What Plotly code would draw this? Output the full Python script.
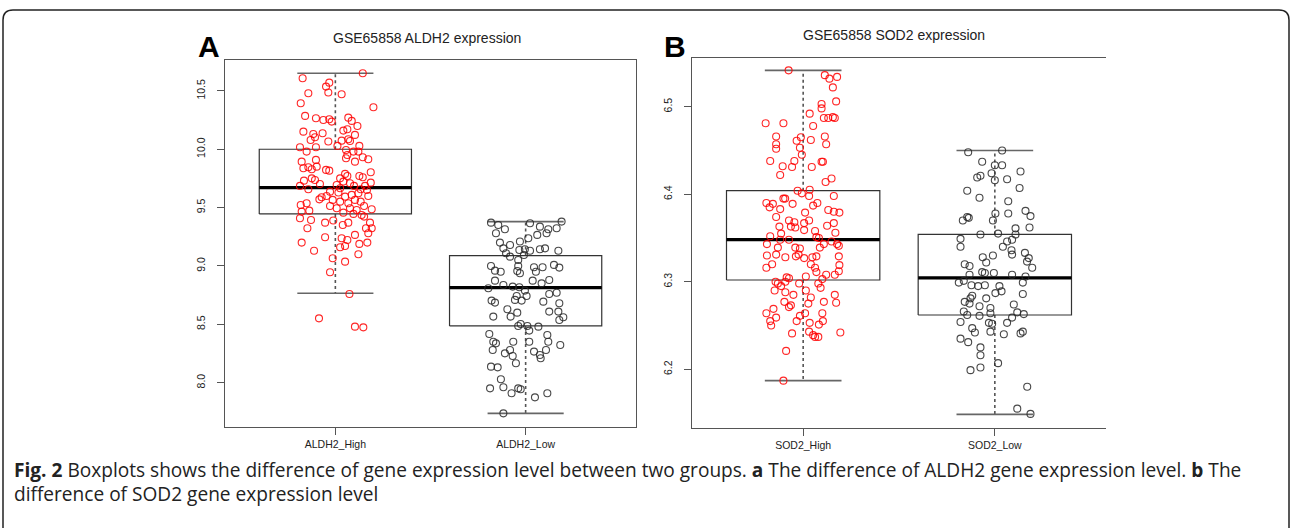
import plotly.graph_objects as go

W, H = 1290, 528

# ---------------- data ----------------
groups_a = ["ALDH2_High", "ALDH2_Low"]
groups_b = ["SOD2_High", "SOD2_Low"]

# box statistics: lower whisker, Q1, median, Q3, upper whisker
stats_a = {
    "ALDH2_High": [8.766, 9.446, 9.671, 10.000, 10.651],
    "ALDH2_Low":  [7.737, 8.486, 8.814, 9.089, 9.380],
}
stats_b = {
    "SOD2_High": [6.187, 6.302, 6.348, 6.404, 6.5415],
    "SOD2_Low":  [6.1485, 6.262, 6.3044, 6.354, 6.450],
}

aldh2_high_y = [10.651, 10.609, 10.571, 10.537, 10.486, 10.48, 10.471, 10.394, 10.36, 10.286,
                10.266, 10.251, 10.257, 10.237, 10.271, 10.243, 10.2, 10.151, 10.131, 10.137,
                10.16, 10.171, 10.123, 10.08, 10.103, 10.066, 10.074, 10.086, 10.071, 10.017,
                9.98, 10.017, 10.029, 9.994, 9.98, 10.029, 9.923, 9.951, 9.894, 9.931,
                9.914, 9.98, 9.894, 9.909, 9.837, 9.846, 9.829, 9.851, 9.823, 9.817,
                9.803, 9.789, 9.751, 9.771, 9.771, 9.76, 9.731, 9.751, 9.737, 9.703,
                9.686, 9.657, 9.694, 9.666, 9.723, 9.709, 9.686, 9.657, 9.686, 9.714,
                9.651, 9.637, 9.629, 9.6, 9.571, 9.589, 9.594, 9.609, 9.623, 9.6,
                9.566, 9.551, 9.537, 9.566, 9.551, 9.514, 9.523, 9.537, 9.514, 9.494,
                9.494, 9.48, 9.486, 9.466, 9.474, 9.457, 9.446, 9.437, 9.409, 9.394,
                9.371, 9.389, 9.351, 9.371, 9.423, 9.371, 9.323, 9.323, 9.28, 9.323,
                9.237, 9.223, 9.266, 9.246, 9.2, 9.189, 9.2, 9.16, 9.171, 9.131,
                9.1, 9.066, 9.037, 8.946, 8.76, 8.551, 8.48, 8.474]
aldh2_high_dx = [0.144, -0.172, -0.032, -0.049, -0.037, -0.142, 0.033, -0.182, 0.2, -0.159,
                 -0.102, -0.063, -0.032, -0.019, 0.068, 0.086, 0.116, -0.168, -0.116, -0.067,
                 0.042, 0.063, 0.103, -0.13, -0.107, -0.037, 0.033, 0.068, 0.077, -0.186,
                 -0.151, -0.102, 0.011, 0.056, 0.095, 0.126, 0.056, 0.063, 0.103, 0.144,
                 0.173, 0.121, -0.177, -0.102, -0.168, -0.142, -0.124, -0.098, -0.049, -0.032,
                 0.186, 0.051, 0.025, 0.063, 0.126, 0.144, -0.165, -0.124, -0.107, -0.081,
                 -0.186, -0.142, 0.007, 0.025, 0.042, 0.077, 0.098, 0.133, 0.156, 0.186,
                 0.166, -0.028, 0.016, -0.046, -0.084, -0.072, 0.051, 0.086, 0.121, 0.173,
                 -0.014, 0.025, 0.068, 0.103, 0.133, 0.151, -0.182, -0.151, -0.028, 0.007,
                 0.077, 0.112, 0.191, -0.177, -0.137, 0.042, 0.095, 0.138, -0.186, -0.128,
                 -0.054, -0.011, 0.039, 0.068, 0.151, 0.182, 0.161, 0.191, 0.173, -0.147,
                 0.033, 0.063, 0.103, -0.054, -0.177, 0.126, 0.168, 0.025, 0.051, -0.112,
                 0.121, -0.014, 0.051, -0.028, 0.074, -0.086, 0.103, 0.147]

aldh2_low_y = [9.371, 9.38, 9.351, 9.366, 9.337, 9.314, 9.323, 9.28, 9.314, 9.266,
               9.28, 9.237, 9.209, 9.2, 9.18, 9.151, 9.109, 9.08, 9.137, 9.143,
               9.131, 9.094, 9.143, 9.151, 9.131, 9.051, 9.0, 8.96, 8.951, 9.0,
               8.957, 8.989, 8.951, 8.989, 9.009, 8.986, 8.937, 8.874, 8.837, 8.823,
               8.817, 8.874, 8.851, 8.88, 8.809, 8.743, 8.789, 8.743, 8.76, 8.771,
               8.703, 8.686, 8.709, 8.703, 8.694, 8.68, 8.566, 8.629, 8.566, 8.6,
               8.609, 8.609, 8.537, 8.56, 8.503, 8.486, 8.486, 8.48, 8.446, 8.417,
               8.351, 8.337, 8.351, 8.351, 8.409, 8.351, 8.323, 8.28, 8.251, 8.28,
               8.229, 8.166, 8.266, 8.237, 8.28, 8.209, 8.137, 8.131, 8.029, 7.951,
               7.96, 7.909, 7.951, 7.943, 7.874, 7.909, 7.737]
aldh2_low_dx = [-0.182, 0.189, -0.144, 0.023, 0.075, 0.119, 0.163, -0.156, -0.109, 0.061,
                0.11, 0.014, -0.03, -0.135, -0.082, -0.117, -0.103, -0.082, -0.033, -0.004,
                0.023, -0.009, 0.075, 0.102, 0.172, -0.039, -0.182, -0.161, -0.131, -0.039,
                -0.044, 0.044, 0.054, 0.089, 0.149, 0.177, -0.03, -0.161, -0.117, -0.068,
                -0.033, 0.037, 0.084, 0.124, -0.196, -0.047, -0.004, 0.005, 0.124, 0.163,
                -0.179, -0.161, -0.056, -0.021, 0.093, 0.177, -0.17, -0.096, -0.079, -0.044,
                0.124, 0.172, 0.177, 0.198, -0.026, -0.039, 0.009, 0.067, 0.019, -0.191,
                -0.17, -0.156, -0.065, 0.019, 0.114, 0.119, 0.182, -0.173, -0.109, -0.082,
                -0.068, -0.051, 0.044, 0.075, 0.107, 0.079, -0.182, -0.147, -0.13, -0.187,
                -0.117, -0.074, -0.039, -0.026, 0.049, 0.114, -0.117]

sod2_high_y = [6.5415, 6.536, 6.532, 6.534, 6.522, 6.506, 6.503, 6.498, 6.492, 6.487,
               6.487, 6.488, 6.487, 6.481, 6.481, 6.478, 6.466, 6.465, 6.461, 6.462,
               6.466, 6.457, 6.457, 6.452, 6.453, 6.445, 6.438, 6.438, 6.437, 6.437,
               6.432, 6.431, 6.431, 6.422, 6.414, 6.418, 6.404, 6.405, 6.401, 6.398,
               6.395, 6.395, 6.398, 6.39, 6.385, 6.389, 6.389, 6.383, 6.387, 6.39,
               6.379, 6.382, 6.38, 6.379, 6.374, 6.37, 6.368, 6.363, 6.362, 6.367,
               6.37, 6.363, 6.364, 6.367, 6.359, 6.358, 6.356, 6.352, 6.355, 6.351,
               6.35, 6.348, 6.348, 6.346, 6.343, 6.343, 6.343, 6.339, 6.339, 6.338,
               6.339, 6.341, 6.33, 6.331, 6.328, 6.329, 6.331, 6.327, 6.328, 6.329,
               6.329, 6.316, 6.32, 6.32, 6.316, 6.319, 6.311, 6.308, 6.308, 6.312,
               6.305, 6.306, 6.3, 6.298, 6.3, 6.304, 6.298, 6.298, 6.303, 6.29,
               6.295, 6.288, 6.29, 6.293, 6.285, 6.282, 6.285, 6.277, 6.273, 6.271,
               6.275, 6.277, 6.276, 6.264, 6.269, 6.264, 6.264, 6.261, 6.255, 6.255,
               6.259, 6.25, 6.253, 6.251, 6.255, 6.242, 6.243, 6.241, 6.239, 6.237,
               6.237, 6.221, 6.187]
sod2_high_dx = [-0.076, 0.113, 0.137, 0.177, 0.155, 0.172, 0.096, 0.096, 0.034, 0.108,
                0.131, 0.155, 0.165, -0.196, -0.103, 0.052, -0.141, -0.012, -0.034, 0.04,
                0.113, 0.12, -0.141, -0.141, -0.017, -0.007, -0.172, -0.046, 0.096, 0.103,
                -0.107, -0.058, 0.045, -0.12, 0.117, 0.148, -0.029, 0.034, -0.007, 0.16,
                -0.103, -0.094, 0.031, -0.192, -0.175, -0.158, -0.055, -0.12, 0.052, 0.074,
                0.01, 0.131, 0.16, 0.189, -0.141, -0.074, -0.046, -0.064, -0.041, 0.005,
                0.031, -0.124, 0.125, 0.16, 0.005, 0.062, 0.168, -0.172, -0.115, 0.069,
                0.082, -0.074, -0.12, 0.148, -0.189, 0.108, 0.177, -0.132, -0.041, -0.017,
                0.087, 0.186, -0.189, -0.141, -0.093, -0.038, -0.024, 0.005, 0.048, 0.069,
                0.186, -0.192, -0.162, 0.04, 0.062, 0.189, 0.069, 0.12, 0.165, 0.186,
                -0.086, 0.014, -0.144, -0.132, -0.093, -0.074, -0.021, 0.079, 0.1, -0.149,
                -0.115, -0.093, 0.014, 0.091, -0.051, 0.04, 0.165, -0.098, -0.064, -0.074,
                0.027, 0.108, 0.172, -0.192, -0.155, 0.01, 0.1, -0.017, -0.034, -0.172,
                -0.141, -0.167, 0.034, 0.082, 0.103, 0.194, 0.031, -0.058, 0.052, 0.062,
                0.079, -0.089, -0.103]

sod2_low_y = [6.448, 6.45, 6.437, 6.433, 6.433, 6.424, 6.426, 6.419, 6.421, 6.416,
              6.417, 6.407, 6.404, 6.396, 6.392, 6.378, 6.378, 6.381, 6.375, 6.37,
              6.374, 6.373, 6.37, 6.361, 6.362, 6.354, 6.355, 6.354, 6.349, 6.346,
              6.348, 6.34, 6.34, 6.336, 6.331, 6.333, 6.328, 6.33, 6.327, 6.323,
              6.32, 6.318, 6.316, 6.322, 6.311, 6.308, 6.31, 6.31, 6.308, 6.306,
              6.299, 6.301, 6.296, 6.295, 6.296, 6.295, 6.299, 6.287, 6.289, 6.284,
              6.281, 6.281, 6.286, 6.277, 6.275, 6.272, 6.274, 6.27, 6.266, 6.262,
              6.261, 6.264, 6.265, 6.263, 6.254, 6.253, 6.252, 6.253, 6.259, 6.243,
              6.24, 6.247, 6.242, 6.241, 6.243, 6.235, 6.231, 6.225, 6.216, 6.207,
              6.202, 6.199, 6.18, 6.155, 6.149]
sod2_low_dx = [-0.139, 0.038, -0.066, 0.0, 0.038, -0.017, 0.134, -0.092, -0.075, 0.0,
               0.064, 0.129, -0.144, -0.08, 0.07, 0.003, 0.07, 0.16, 0.186, -0.167,
               -0.144, -0.136, -0.01, 0.108, 0.181, -0.075, 0.017, 0.108, -0.179, 0.064,
               0.09, -0.179, 0.042, 0.087, 0.09, 0.157, -0.063, -0.01, 0.177, 0.168,
               -0.157, -0.132, 0.195, -0.045, -0.066, -0.132, -0.052, -0.005, 0.09, 0.16,
               -0.188, -0.162, -0.122, -0.087, -0.052, 0.024, 0.146, 0.003, 0.035, -0.118,
               -0.127, -0.045, 0.146, -0.157, -0.132, -0.08, 0.099, -0.023, -0.162, -0.144,
               -0.08, -0.023, 0.117, 0.151, -0.179, -0.031, -0.014, 0.064, 0.09, -0.023,
               0.047, -0.118, -0.104, 0.134, 0.146, -0.179, -0.139, -0.075, -0.075, 0.017,
               -0.075, -0.127, 0.169, 0.117, 0.186]

points_a = {"ALDH2_High": (aldh2_high_y, aldh2_high_dx), "ALDH2_Low": (aldh2_low_y, aldh2_low_dx)}
points_b = {"SOD2_High": (sod2_high_y, sod2_high_dx), "SOD2_Low": (sod2_low_y, sod2_low_dx)}
point_colors = ["rgba(255,0,0,0.85)", "rgba(40,40,40,0.85)"]

yticks_a = [8.0, 8.5, 9.0, 9.5, 10.0, 10.5]
yticks_b = [6.2, 6.3, 6.4, 6.5]

# ---------------- figure ----------------
fig = go.Figure()

def px_x(p):
    return p / W

def px_y(p):
    return 1 - p / H

def add_panel(groups, stats, points, xa, ya):
    for i, g in enumerate(groups):
        c = i + 1
        lo, q1, med, q3, hi = stats[g]
        fig.add_trace(go.Scatter(x=[c, c, None, c, c], y=[q3, hi, None, q1, lo], mode="lines",
                                 line=dict(color="#555555", width=1.6, dash="dot"),
                                 xaxis=xa, yaxis=ya, hoverinfo="skip", showlegend=False))
        fig.add_trace(go.Scatter(x=[c - 0.2, c + 0.2, None, c - 0.2, c + 0.2], y=[hi, hi, None, lo, lo],
                                 mode="lines", line=dict(color="#666666", width=1.6),
                                 xaxis=xa, yaxis=ya, hoverinfo="skip", showlegend=False))
        fig.add_trace(go.Scatter(x=[c - 0.4, c + 0.4, c + 0.4, c - 0.4, c - 0.4], y=[q1, q1, q3, q3, q1],
                                 mode="lines", line=dict(color="#333333", width=1.2),
                                 xaxis=xa, yaxis=ya, hoverinfo="skip", showlegend=False))
        fig.add_trace(go.Scatter(x=[c - 0.4, c + 0.4], y=[med, med], mode="lines",
                                 line=dict(color="#000000", width=3.2),
                                 xaxis=xa, yaxis=ya, hoverinfo="skip", showlegend=False))
    for i, g in enumerate(groups):
        c = i + 1
        ys, dxs = points[g]
        fig.add_trace(go.Scatter(x=[c + d for d in dxs], y=ys, mode="markers",
                                 marker=dict(symbol="circle-open", size=7, color=point_colors[i],
                                             line=dict(width=1.1, color=point_colors[i])),
                                 xaxis=xa, yaxis=ya, hoverinfo="skip", showlegend=False))

add_panel(groups_a, stats_a, points_a, "x", "y")
add_panel(groups_b, stats_b, points_b, "x2", "y2")

tickfont = dict(family="Liberation Sans, Arial, sans-serif", size=10.5, color="#222222")
axis_common = dict(showgrid=False, zeroline=False, ticks="outside", ticklen=7, tickwidth=1,
                   tickcolor="#555555", linecolor="#555555", linewidth=1.3, tickfont=tickfont,
                   showline=True)

fig.update_layout(
    width=W, height=H, autosize=False,
    margin=dict(l=0, r=0, t=0, b=0),
    paper_bgcolor="white", plot_bgcolor="white",
    xaxis=dict(domain=[px_x(225), px_x(636)], range=[0.42, 2.58], tickvals=[1, 2],
               ticktext=groups_a, mirror=True, anchor="y", ticklabelstandoff=0, **axis_common),
    yaxis=dict(domain=[px_y(427), px_y(60)], range=[7.620, 10.765], tickvals=yticks_a,
               ticktext=[f"{v:.1f}" for v in yticks_a], tickangle=-90, mirror=True, anchor="x",
               ticklabelstandoff=8, **axis_common),
    xaxis2=dict(domain=[px_x(692), px_x(1106)], range=[0.42, 2.58], tickvals=[1, 2],
                ticktext=groups_b, mirror=True, anchor="y2", ticklabelstandoff=0, **axis_common),
    yaxis2=dict(domain=[px_y(428), px_y(58)], range=[6.1329, 6.5556], tickvals=yticks_b,
                ticktext=[f"{v:.1f}" for v in yticks_b], tickangle=-90, mirror=False, anchor="x2",
                ticklabelstandoff=8, **axis_common),
)

title_font = dict(family="Liberation Sans, Arial, sans-serif", size=14, color="#222222")
letter_font = dict(family="Liberation Sans, Arial, sans-serif", size=30, color="#000000")
annotations = [
    dict(text="GSE65858 ALDH2 expression", x=px_x(427), y=px_y(38), font=title_font,
         xanchor="center", yanchor="middle"),
    dict(text="GSE65858 SOD2 expression", x=px_x(894), y=px_y(35), font=title_font,
         xanchor="center", yanchor="middle"),
    dict(text="<b>A</b>", x=px_x(209), y=px_y(47), font=letter_font, xanchor="center", yanchor="middle"),
    dict(text="<b>B</b>", x=px_x(675), y=px_y(46), font=letter_font, xanchor="center", yanchor="middle"),
]
cap_font = dict(family="Open Sans, Noto Sans, sans-serif", size=19.1, color="#222222")
annotations.append(dict(
    text="<b>Fig. 2</b> Boxplots shows the difference of gene expression level between two groups. "
         "<b>a</b> The difference of ALDH2 gene expression level. <b>b</b> The",
    x=px_x(12), y=px_y(470), font=cap_font, xanchor="left", yanchor="middle"))
annotations.append(dict(text="difference of SOD2 gene expression level",
                        x=px_x(12), y=px_y(494), font=cap_font, xanchor="left", yanchor="middle"))
for a in annotations:
    a.update(xref="paper", yref="paper", showarrow=False)
fig.update_layout(annotations=annotations)

# outer rounded border of the figure
r = 10
path = (f"M {px_x(3)},{px_y(540)} L {px_x(3)},{px_y(10 + r)} "
        f"Q {px_x(3)},{px_y(10)} {px_x(3 + r)},{px_y(10)} "
        f"L {px_x(1289 - r)},{px_y(10)} Q {px_x(1289)},{px_y(10)} {px_x(1289)},{px_y(10 + r)} "
        f"L {px_x(1289)},{px_y(540)}")
fig.add_shape(type="path", path=path, xref="paper", yref="paper",
              line=dict(color="#222222", width=1.5))

fig.write_html("out.html", config={"displayModeBar": False},
               post_script="document.body.style.margin='0';document.body.style.overflow='hidden';")
